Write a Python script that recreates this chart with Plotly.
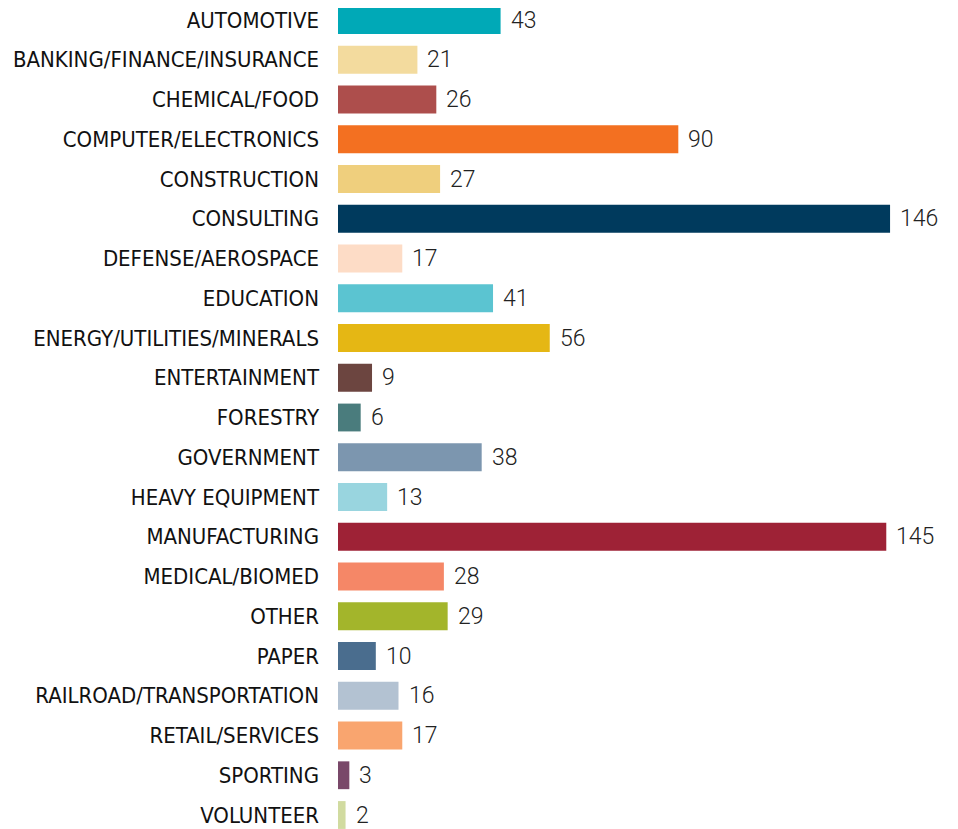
import plotly.graph_objects as go

categories = ["AUTOMOTIVE", "BANKING/FINANCE/INSURANCE", "CHEMICAL/FOOD", "COMPUTER/ELECTRONICS",
              "CONSTRUCTION", "CONSULTING", "DEFENSE/AEROSPACE", "EDUCATION",
              "ENERGY/UTILITIES/MINERALS", "ENTERTAINMENT", "FORESTRY", "GOVERNMENT",
              "HEAVY EQUIPMENT", "MANUFACTURING", "MEDICAL/BIOMED", "OTHER", "PAPER",
              "RAILROAD/TRANSPORTATION", "RETAIL/SERVICES", "SPORTING", "VOLUNTEER"]
values = [43, 21, 26, 90, 27, 146, 17, 41, 56, 9, 6, 38, 13, 145, 28, 29, 10, 16, 17, 3, 2]
colors = ["#00A9B7", "#F3DB9E", "#AD4E4C", "#F37021", "#EFCF7D", "#003A5D", "#FDDCC6",
          "#5BC4D1", "#E5B714", "#6C4540", "#4A7C7D", "#7C96AF", "#99D5DF", "#9E2236",
          "#F58767", "#A3B52B", "#4A6D8E", "#B3C2D2", "#F9A56F", "#794869", "#D1DBA0"]

fig = go.Figure(go.Bar(
    x=values, y=categories, orientation="h",
    marker=dict(color=colors, line=dict(width=0)),
    hoverinfo="x+y",
))

for c, v in zip(categories, values):
    fig.add_annotation(x=v, y=c, text=str(v), showarrow=False, xanchor="left",
                       xshift=9, yshift=0, borderpad=0,
                       font=dict(family="Roboto", size=23, color="#222222", weight=300))

fig.update_layout(
    width=950, height=821,
    margin=dict(l=330, r=15, t=0, b=0, autoexpand=False),
    paper_bgcolor="white", plot_bgcolor="white",
    bargap=0.3,
    showlegend=False,
    xaxis=dict(range=[0, 160], visible=False, fixedrange=True, automargin=False),
    yaxis=dict(categoryorder="array", categoryarray=categories, automargin=False,
               range=[20.352, -0.302], showgrid=False, zeroline=False, showline=False,
               ticks="", ticklabelstandoff=18,
               tickfont=dict(family="DejaVu Sans Condensed, Roboto Condensed, Liberation Sans",
                             size=22, color="#111111")),
)

fig.write_html("out.html")
